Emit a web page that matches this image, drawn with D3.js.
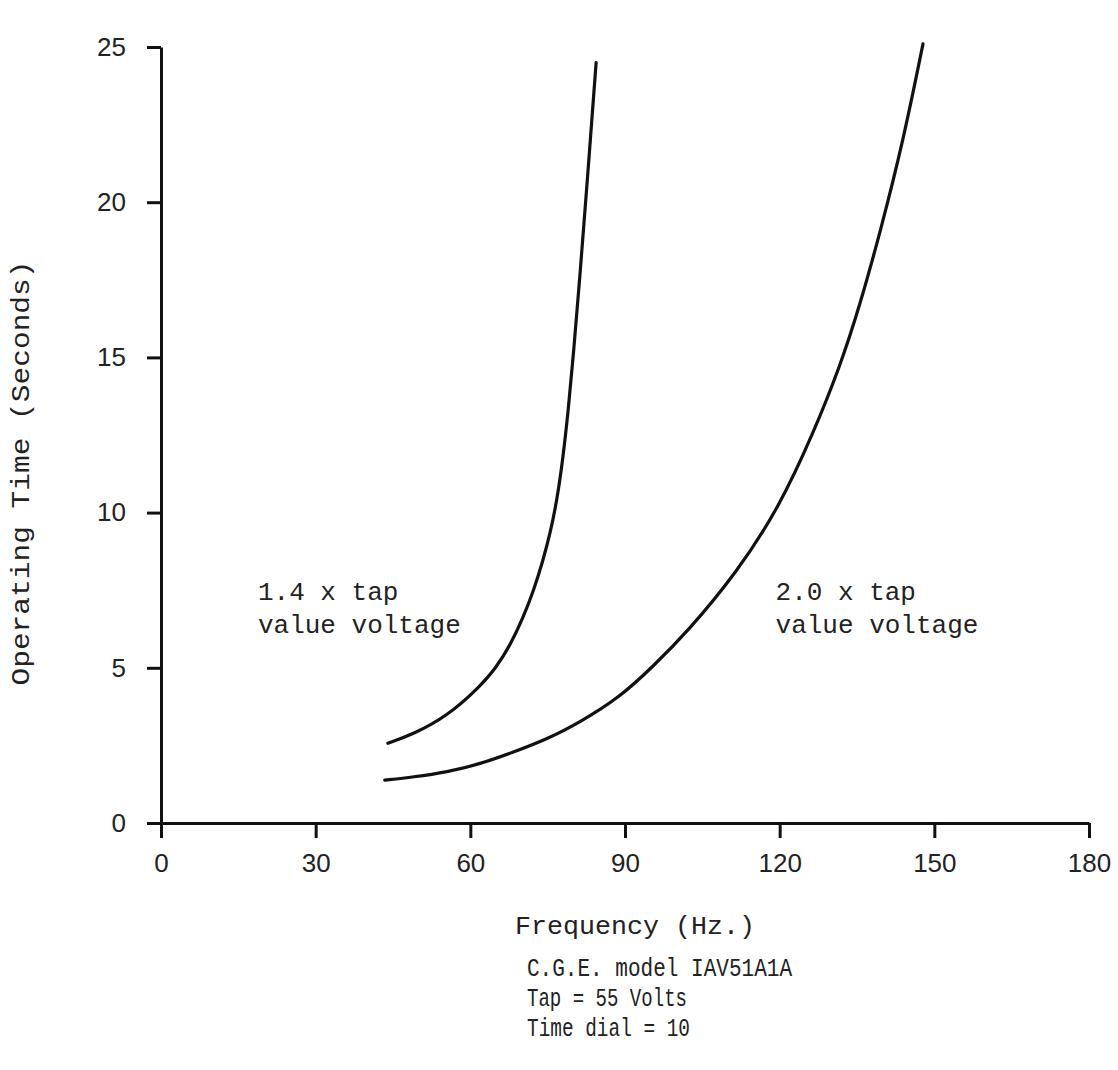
<!DOCTYPE html>
<html>
<head>
<meta charset="utf-8">
<script src="https://cdn.jsdelivr.net/npm/d3@7"></script>
<style>
  body { margin: 0; background: #fff; }
  .tick text { font-family: "Liberation Sans", sans-serif; font-size: 26px; fill: #222; }
  .mono { font-family: "Liberation Mono", monospace; font-size: 26px; fill: #222; }
</style>
</head>
<body>
<div id="chart"></div>
<script>
// frequency (Hz) / operating time (s)
const freq14 = [44.0, 48.9, 55.5, 61.9, 65.0, 67.8, 70.2, 72.3, 74.0, 75.6, 76.9, 78.0, 79.0, 80.0, 81.2, 82.6, 84.4];
const time14 = [2.57, 2.86, 3.44, 4.40, 5.0, 5.75, 6.6, 7.5, 8.4, 9.4, 10.5, 11.8, 13.3, 15.1, 17.5, 20.5, 24.5];

const freq20 = [43.4, 48.9, 55.5, 61.9, 68.3, 74.9, 81.3, 89.0, 95.4, 102.0, 111.7, 120.0, 126.5, 131.7, 135.6, 139.6, 144.0, 147.8];
const time20 = [1.38, 1.48, 1.64, 1.9, 2.28, 2.7, 3.25, 4.05, 5.04, 6.14, 8.07, 10.2, 12.55, 14.7, 16.7, 19.1, 22.0, 25.1];

const xTicks = [0, 30, 60, 90, 120, 150, 180];
const yTicks = [0, 5, 10, 15, 20, 25];

const curveLabels = [
  {lines: ["1.4 x tap", "value voltage"], f: 18.8, t: 7.2},
  {lines: ["2.0 x tap", "value voltage"], f: 119.2, t: 7.2}
];
const footnote = ["C.G.E. model IAV51A1A", "Tap = 55 Volts", "Time dial = 10"];

const W = 1118, H = 1070;
const svg = d3.select("#chart").append("svg")
    .attr("width", W).attr("height", H);

const x = d3.scaleLinear().domain([0, 180]).range([161, 1089]);
const y = d3.scaleLinear().domain([0, 25]).range([823, 47]);

// axes
const xAxis = d3.axisBottom(x).tickValues(xTicks).tickSize(15).tickSizeOuter(0).tickPadding(12);
const yAxis = d3.axisLeft(y).tickValues(yTicks).tickSize(14).tickSizeOuter(0).tickPadding(21);

const gx = svg.append("g").attr("transform", `translate(0,${y(0)})`).call(xAxis);
const gy = svg.append("g").attr("transform", `translate(${x(0)},0)`).call(yAxis);

[gx, gy].forEach(g => {
  g.select(".domain").attr("stroke", "#111").attr("stroke-width", 3);
  g.selectAll(".tick line").attr("stroke", "#111").attr("stroke-width", 3);
});
gx.selectAll(".tick text").attr("dy", "0.85em");

// curves
const line = d3.line()
    .x(d => x(d[0]))
    .y(d => y(d[1]))
    .curve(d3.curveBasis);

[[freq14, time14], [freq20, time20]].forEach(([fs, ts]) => {
  svg.append("path")
      .datum(fs.map((f, i) => [f, ts[i]]))
      .attr("fill", "none")
      .attr("stroke", "#111")
      .attr("stroke-width", 3.2)
      .attr("stroke-linecap", "round")
      .attr("d", line);
});

// curve labels
curveLabels.forEach(l => {
  const t = svg.append("text").attr("class", "mono")
      .attr("x", x(l.f)).attr("y", y(l.t));
  l.lines.forEach((s, i) => {
    t.append("tspan").attr("x", x(l.f)).attr("dy", i ? 33 : 0).text(s);
  });
});

// axis titles
svg.append("text").attr("class", "mono")
    .attr("transform", "translate(29,473) rotate(-90)")
    .attr("text-anchor", "middle")
    .attr("textLength", 425).attr("lengthAdjust", "spacingAndGlyphs")
    .text("Operating Time (Seconds)");

svg.append("text").attr("class", "mono")
    .attr("x", 515).attr("y", 934)
    .attr("textLength", 240).attr("lengthAdjust", "spacingAndGlyphs")
    .text("Frequency (Hz.)");

// footnote
const fnLen = [265, 160, 163];
footnote.forEach((s, i) => {
  svg.append("text").attr("class", "mono")
      .attr("x", 527).attr("y", 976 + i * 30)
      .attr("textLength", fnLen[i]).attr("lengthAdjust", "spacingAndGlyphs")
      .text(s);
});
</script>
</body>
</html>
